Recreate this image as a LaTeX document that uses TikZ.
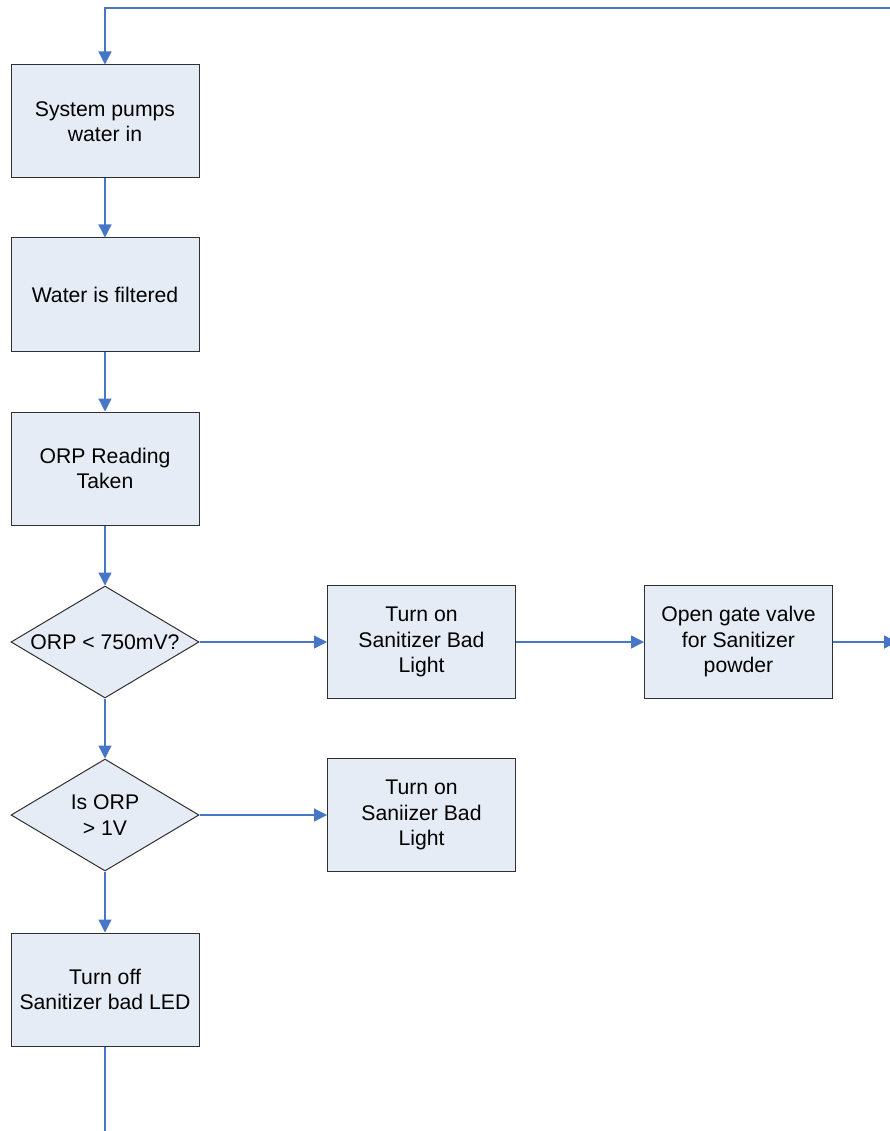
\documentclass[tikz,border=0pt]{standalone}
\usepackage{fontspec}
\setmainfont{Liberation Sans}
\usetikzlibrary{arrows.meta,shapes.geometric}
\definecolor{boxfill}{HTML}{E6ECF6}
\definecolor{linkblue}{HTML}{4677C6}
\definecolor{edgegray}{HTML}{303030}
\begin{document}
\begin{tikzpicture}[x=1pt,y=-1pt,
  stepbox/.style={draw=edgegray, line width=1pt, fill=boxfill, minimum width=188pt, minimum height=113pt, inner sep=0pt, font=\fontsize{21.2}{25.5}\selectfont, align=center},
  decision/.style={diamond, draw=edgegray, line width=1pt, fill=boxfill, minimum width=188pt, minimum height=112pt, inner sep=0pt},
  txt/.style={font=\fontsize{21.2}{25.5}\selectfont, align=center, inner sep=0pt},
  link/.style={draw=linkblue, line width=1.3pt, -{Triangle[length=13pt,width=13pt]}},
  plain/.style={draw=linkblue, line width=1.3pt}]
\useasboundingbox (0,0) rectangle (889,1131);

\node[stepbox] (b1) at (105,121.5) {System pumps\\water in};
\node[stepbox] (b2) at (105,294.5) {Water is filtered};
\node[stepbox] (b3) at (105,468.5) {ORP Reading\\Taken};
\node[decision] (d1) at (105,642) {};
\node[txt] (d1t) at (105,642) {ORP < 750mV?};
\node[stepbox] (b4) at (421.5,642) {Turn on\\Sanitizer Bad\\Light};
\node[stepbox] (b5) at (738.5,642) {Open gate valve\\for Sanitizer\\powder};
\node[decision] (d2) at (105,815) {};
\node[txt] (d2t) at (105,815) {Is ORP\\> 1V};
\node[stepbox] (b6) at (421.5,815) {Turn on\\Saniizer Bad\\Light};
\node[stepbox] (b7) at (105,989.5) {Turn off\\Sanitizer bad LED};

\coordinate (topR) at (900,8);
\coordinate (topL) at (105,8);
\coordinate (outR) at (897,642);
\coordinate (bottom) at (105,1140);

\draw[link] (topR) -- (topL) -- (b1);
\draw[link] (b1) -- (b2);
\draw[link] (b2) -- (b3);
\draw[link] (b3) -- (d1);
\draw[link] (d1) -- (b4);
\draw[link] (b4) -- (b5);
\draw[link] (b5) -- (outR);
\draw[link] (d1) -- (d2);
\draw[link] (d2) -- (b6);
\draw[link] (d2) -- (b7);
\draw[plain] (b7) -- (bottom);
\end{tikzpicture}
\end{document}
